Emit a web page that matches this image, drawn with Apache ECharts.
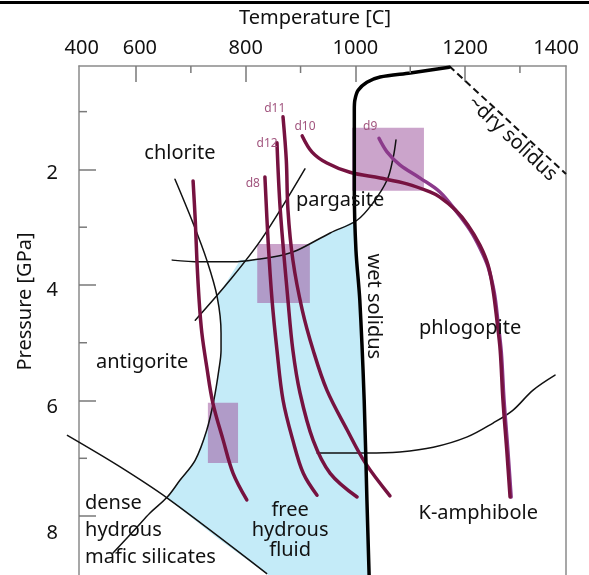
<!DOCTYPE html>
<html><head><meta charset="utf-8">
<script src="https://cdn.jsdelivr.net/npm/echarts@6/dist/echarts.min.js"></script>
<style>html,body{margin:0;padding:0;background:#fff}#c{width:589px;height:575px}</style>
</head><body><div id="c"></div>
<script>
// ---- axis ticks / labels ----
const xTickLabels = ['400','600','800','1000','1200','1400'];
const xTickLabelAt = [501,607,800,1000,1200,1366];
const xMajorTicks = [600,800,1000,1200];
const xMinorTicks = [700,900,1100,1300];
const yTickLabels = ['2','4','6','8'];
const yTickLabelAt = [2.07,4.10,6.12,8.29];
const yMajorTicks = [2,4,6,8];
const yMinorTicks = [1,3,5,7];
const xMin = 496, xMax = 1384, yMin = 0.21, yMax = 9.02;

// ---- boundaries [T (C), P (GPa)] ----
const wetSolidus = [[1171,0.23],[1100,0.33],[1045,0.40],[1021,0.49],[1005,0.63],[999,0.80],[998,0.97],[998,2.36],[1001,3.40],[1008,4.26],[1016,5.99],[1021,7.72],[1025,9.02]];
const drySolidus = [[1171,0.21],[1384,2.08]];
const chloriteAntigorite = [[671,2.17],[704,2.93],[729,3.57],[748,4.21],[755,4.83],[755,5.13],[751,5.47],[742,5.99],[729,6.51],[708,7.03],[680,7.38],[657,7.67],[625,7.95],[602,8.19],[558,8.64]];
const chloriteOut = [[708,4.61],[771,3.92],[830,3.19],[908,1.99]];
const pargasiteOut = [[666,3.57],[717,3.60],[777,3.60],[826,3.55],[868,3.48],[894,3.40],[954,3.10],[1003,2.88],[1032,2.58],[1058,2.18],[1069,1.79],[1074,1.49]];
const kAmphiboleOut = [[930,6.91],[1021,6.91],[1081,6.89],[1142,6.81],[1204,6.63],[1251,6.39],[1287,6.17],[1324,5.82],[1364,5.56]];
const denseHydrous = [[474,6.60],[566,7.12],[657,7.69],[839,9.00]];
const fluidRegion = [[790,3.57],[826,3.55],[868,3.48],[894,3.40],[954,3.10],[999,2.89],[1001,3.40],[1008,4.26],[1016,5.99],[1021,7.72],[1025,9.02],[841,9.02],[748,8.38],[657,7.69],[680,7.38],[708,7.03],[729,6.51],[742,5.99],[751,5.47],[755,5.13],[755,4.83],[753,4.50],[748,4.21]];
// boxes [Tmin, Tmax, Pmin, Pmax]
const boxes = [[994,1125,1.28,2.37],[821,917,3.29,4.31],[731,786,6.04,7.08]];

// ---- P-T paths ----
const pathC = [[704,2.20],[708,2.88],[711,3.57],[715,4.26],[720,4.83],[729,5.42],[740,6.04],[759,6.69],[777,7.26],[802,7.72]];
const d8 = [[835,2.13],[841,3.27],[848,4.26],[857,5.13],[868,5.99],[886,6.69],[905,7.26],[930,7.64]];
const d12 = [[857,1.54],[863,2.70],[877,4.26],[886,5.13],[899,5.87],[923,6.69],[954,7.26],[1003,7.67]];
const d11 = [[868,1.09],[874,1.84],[877,2.70],[886,3.57],[903,4.43],[923,5.13],[948,5.82],[985,6.51],[1018,7.08],[1063,7.65]];
const d10 = [[903,1.42],[921,1.70],[948,1.89],[990,2.05],[1045,2.15],[1094,2.25],[1136,2.39],[1154,2.48],[1182,2.70],[1205,2.96],[1227,3.31],[1242,3.66],[1251,4.09],[1258,4.61],[1264,5.13],[1269,5.99],[1276,6.86],[1282,7.67]];
const d9 = [[1043,1.46],[1058,1.70],[1081,1.92],[1118,2.15],[1154,2.39],[1185,2.74],[1209,3.05],[1227,3.36],[1242,3.69],[1253,4.12],[1260,4.64],[1266,5.16],[1271,5.99],[1278,6.86],[1284,7.67]];

// ---- annotations [text, T, P] ----
const regionLabels = [['chlorite',680,1.72],['pargasite',972,2.53],['antigorite',611,5.34],['phlogopite',1209,4.75],['K-amphibole',1224,7.95],['free\nhydrous\nfluid',881,8.24]];
const leftLabels = [['dense\nhydrous\nmafic silicates',507,8.24]];
const wetLabel = [['wet solidus',1034,4.37]];
const dryLabel = [['~dry solidus',1286,1.47]];
const pathLabels = [['d11',853,0.94],['d10',908,1.25],['d12',839,1.56],['d8',813,2.24],['d9',1027,1.25]];

const FONT = 'Noto Sans';
const chart = echarts.init(document.getElementById('c'), null, {renderer:'canvas'});

function line(data, color, width, z, extra) {
  return Object.assign({type:'line', data, symbol:'none', showSymbol:false, smooth:0.35, clip:false, silent:true,
    lineStyle:{color, width, cap:'round'}, z}, extra || {});
}
function textSeries(items, label, z) {
  return {type:'scatter', silent:true, z, symbolSize:0, clip:false, itemStyle:{opacity:1},
    data: items.map(it => ({value:[it[1], it[2]], name: it[0]})),
    label: Object.assign({show:true, position:'inside', formatter: p => p.name, fontFamily:FONT, color:'#111', fontSize:20, opacity:1}, label)};
}
function tickSeries(vals, isX, len) {
  return {type:'custom', silent:true, z:6, clip:false,
    data: vals.map(v => isX ? [v, yMin] : [xMin, v]), encode:{x:0, y:1},
    renderItem: (params, api) => {
      const p = api.coord([api.value(0), api.value(1)]);
      return {type:'line', shape: isX ? {x1:p[0], y1:p[1], x2:p[0], y2:p[1]+len} : {x1:p[0], y1:p[1], x2:p[0]+len, y2:p[1]},
        style:{stroke:'#7a7a7a', lineWidth:1.5}};
    }};
}

const maroon = '#761240', violet = '#8b3a8b';

chart.setOption({
  animation:false,
  backgroundColor:'#fff',
  grid:{left:79, right:23, top:66, bottom:0, outerBoundsMode:'none'},
  graphic:[{type:'rect', left:0, top:1, shape:{width:589, height:3}, style:{fill:'#000'}}],
  xAxis:{type:'value', position:'top', min:xMin, max:xMax,
    name:'Temperature [C]', nameLocation:'middle', nameGap:38,
    nameTextStyle:{fontFamily:FONT, fontSize:20, color:'#111', padding:[0,15,0,0]},
    axisLine:{show:true, lineStyle:{color:'#8a8a8a', width:1.5}},
    axisTick:{show:true, inside:true, length:16, customValues:xMajorTicks, lineStyle:{color:'#7a7a7a', width:1.5}},
    axisLabel:{show:true, customValues:xTickLabelAt, margin:8, fontFamily:FONT, fontSize:20, color:'#111',
      formatter: v => { const i = xTickLabelAt.indexOf(v); return i >= 0 ? xTickLabels[i] : ''; }},
    splitLine:{show:false}},
  yAxis:[{type:'value', inverse:true, min:yMin, max:yMax,
    name:'Pressure [GPa]', nameLocation:'middle', nameGap:42, nameRotate:90,
    nameTextStyle:{fontFamily:FONT, fontSize:20, color:'#111', padding:[0,0,0,38]},
    axisLine:{show:true, lineStyle:{color:'#8a8a8a', width:1.5}},
    axisTick:{show:true, inside:true, length:17, customValues:yMajorTicks, lineStyle:{color:'#7a7a7a', width:1.5}},
    axisLabel:{show:true, customValues:yTickLabelAt, margin:21, fontFamily:FONT, fontSize:20, color:'#111',
      formatter: v => { const i = yTickLabelAt.indexOf(v); return i >= 0 ? yTickLabels[i] : ''; }},
    splitLine:{show:false}},
   {type:'value', inverse:true, min:yMin, max:yMax, position:'right',
    axisLine:{show:true, lineStyle:{color:'#8a8a8a', width:1.5}},
    axisTick:{show:false}, axisLabel:{show:false}, splitLine:{show:false}}],
  series:[
    {type:'custom', silent:true, z:1, clip:false, data:[fluidRegion[0]], encode:{x:0, y:1},
      renderItem:(params, api) => ({type:'polygon', shape:{points: fluidRegion.map(p => api.coord(p))}, style:{fill:'#c4ebf8'}})},
    {type:'custom', silent:true, z:2, clip:false, data:boxes, encode:{x:[0,1], y:[2,3]},
      renderItem:(params, api) => {
        const a = api.coord([api.value(0), api.value(2)]), b = api.coord([api.value(1), api.value(3)]);
        return {type:'rect', shape:{x:Math.min(a[0],b[0]), y:Math.min(a[1],b[1]), width:Math.abs(b[0]-a[0]), height:Math.abs(b[1]-a[1])},
          style:{fill:'rgba(160,90,160,0.55)'}};
      }},
    line(chloriteAntigorite, '#111', 1.5, 3),
    line(chloriteOut, '#111', 1.5, 3),
    line(pargasiteOut, '#111', 1.5, 3),
    line(kAmphiboleOut, '#111', 1.5, 3),
    {type:'custom', silent:true, z:3, clip:false, data:[denseHydrous[0]], encode:{x:0, y:1},
      renderItem:(params, api) => ({type:'polyline', shape:{points: denseHydrous.map(p => api.coord(p)), smooth:0.3},
        style:{stroke:'#111', lineWidth:1.5, fill:null}})},
    line(drySolidus, '#111', 2, 3, {smooth:false, lineStyle:{color:'#111', width:2, type:[7,4]}}),
    line(pathC, maroon, 3.5, 4),
    line(d8, maroon, 3.5, 4),
    line(d12, maroon, 3.5, 4),
    line(d11, maroon, 3.5, 4),
    line(d9, violet, 3.5, 4),
    line(d10, maroon, 3.5, 4),
    line(wetSolidus, '#000', 3.5, 5, {smooth:0.3}),
    tickSeries(xMinorTicks, true, 7),
    tickSeries(yMinorTicks, false, 8),
    textSeries(regionLabels, {}, 7),
    textSeries(leftLabels, {align:'left', lineHeight:27}, 7),
    textSeries(wetLabel, {rotate:-90}, 7),
    textSeries(dryLabel, {rotate:-43}, 7),
    textSeries(pathLabels, {fontSize:12, color:'#a2567f'}, 7)
  ]
});
</script></body></html>
